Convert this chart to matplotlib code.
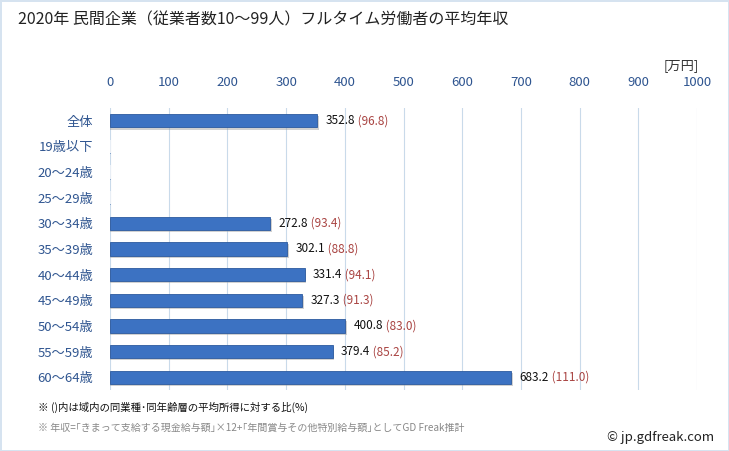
import matplotlib
matplotlib.use("Agg")
import matplotlib.pyplot as plt
import numpy as np

plt.rcParams['font.family'] = ['Noto Sans CJK JP', 'DejaVu Sans']

categories = ["全体", "19歳以下", "20～24歳", "25～29歳", "30～34歳", "35～39歳",
              "40～44歳", "45～49歳", "50～54歳", "55～59歳", "60～64歳"]
incomes = [352.8, None, None, None, 272.8, 302.1, 331.4, 327.3, 400.8, 379.4, 683.2]
ratios = [96.8, None, None, None, 93.4, 88.8, 94.1, 91.3, 83.0, 85.2, 111.0]
xticks = [0, 100, 200, 300, 400, 500, 600, 700, 800, 900, 1000]

fig = plt.figure(figsize=(7.29, 4.51), dpi=100)
fig.patch.set_edgecolor("#D6E3F0")
fig.patch.set_linewidth(2)

# axes placement in pixel coords: x 110..697, y 108..390
W, H = 729, 451
ax = fig.add_axes([110 / W, 1 - 390 / H, (697 - 110) / W, (390 - 108) / H])

y = np.arange(len(categories))
vals = [v if v is not None else 0 for v in incomes]
# soft shadow
ax.barh(y + 0.08, [v + 3 if v else 0 for v in vals], height=0.52, color="#9A9A9A",
        alpha=0.45, linewidth=0, zorder=2)
ax.barh(y, vals, height=0.52, color="#3C72C2", edgecolor="#2C5A9F",
        linewidth=0.6, zorder=3)
# thin placeholder for empty rows
for i, v in enumerate(incomes):
    if v is None:
        ax.barh(i, 1.5, height=0.52, color="#E8EEF5", zorder=3)

ax.set_xlim(0, 1000)
ax.set_ylim(len(categories) - 0.5, -0.5)
ax.set_xticks(xticks)
ax.xaxis.tick_top()
ax.tick_params(axis="x", length=0, pad=14, labelsize=9.5, labelcolor="#2F5590")
ax.set_yticks(y)
ax.set_yticklabels(categories)
ax.tick_params(axis="y", length=0, pad=12, labelsize=9.5, labelcolor="#2F5590")
ax.grid(axis="x", color="#C9DAEA", linewidth=0.8, zorder=0)
for s in ax.spines.values():
    s.set_visible(False)

for i, (v, r) in enumerate(zip(incomes, ratios)):
    if v is None:
        continue
    t = ax.annotate(f"{v:.1f}", xy=(v, i), xytext=(6, 0), textcoords="offset points",
                    va="center", ha="left", fontsize=8.5, color="#111111", zorder=4)
    ax.annotate(f" ({r:.1f})", xy=(1, 0.5), xycoords=t, va="center", ha="left",
                fontsize=8.5, color="#A94442", zorder=4)

fig.text(18 / W, 1 - 20 / H, "2020年 民間企業（従業者数10～99人）フルタイム労働者の平均年収",
         fontsize=11.5, va="center", ha="left", color="#222222")
fig.text(699 / W, 1 - 66 / H, "[万円]", fontsize=9.5, va="center", ha="right", color="#333333")
fig.text(38 / W, 1 - 407 / H, "※ ()内は域内の同業種･同年齢層の平均所得に対する比(%)",
         fontsize=7.5, va="center", ha="left", color="#111111")
fig.text(38 / W, 1 - 428 / H,
         "※ 年収=｢きまって支給する現金給与額｣×12+｢年間賞与その他特別給与額｣としてGD Freak推計",
         fontsize=7.2, va="center", ha="left", color="#888888")
fig.text(714 / W, 1 - 437 / H, "© jp.gdfreak.com", fontsize=9.5, va="center", ha="right",
         color="#222222")

fig.savefig("out.png", dpi=100)
